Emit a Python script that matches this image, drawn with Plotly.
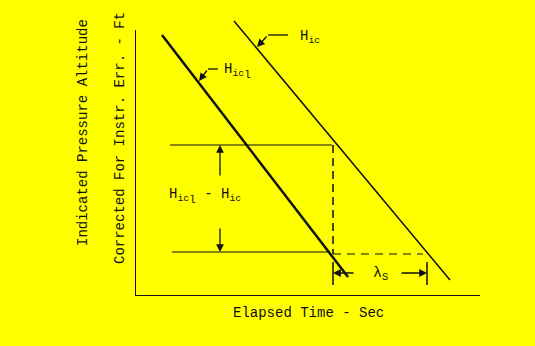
import plotly.graph_objects as go

# Data (arbitrary units: elapsed time vs altitude)
time_hic1 = [2.7, 21.3]
alt_hic1 = [26.1, 1.9]
time_hic = [9.9, 31.5]
alt_hic = [27.5, 1.6]

upper_ref_x = [3.5, 19.7]
upper_ref_y = [15.1, 15.1]
lower_ref_x = [3.7, 19.5]
lower_ref_y = [4.4, 4.4]

dash_v_x = [19.8, 19.8]
dash_v_y = [15.1, 4.2]
dash_h_x = [19.8, 28.8]
dash_h_y = [4.2, 4.2]

tick1_x = [19.8, 19.8]
tick2_x = [29.2, 29.2]
tick_y = [3.4, 1.1]

axis_x = [0, 0, 34.5]
axis_y = [26.6, 0, 0]

lead_hic_x = [15.3, 13.3, 12.2]
lead_hic_y = [26.1, 26.1, 24.9]
lead_hic1_x = [8.3, 7.3, 6.4]
lead_hic1_y = [22.7, 22.7, 21.5]

up_arrow_x = [8.5, 8.5]
up_arrow_y = [11.9, 15.1]
down_arrow_x = [8.5, 8.5]
down_arrow_y = [6.9, 4.4]
lam_left_x = [22.0, 19.8]
lam_right_x = [26.5, 29.2]
lam_y = [2.3, 2.3]

X_RANGE = [0, 34.5]
Y_RANGE = [0, 28.1]

FONT = "Liberation Mono"
INK = "#111111"

fig = go.Figure()

def seg(x, y, w, dash="solid"):
    fig.add_trace(go.Scatter(x=x, y=y, mode="lines",
                             line=dict(color=INK, width=w, dash=dash),
                             hoverinfo="skip", showlegend=False))

def arrow(x, y, w=1.3):
    # polyline body, then an arrowhead on the final segment
    if len(x) > 2:
        seg(x[:-1], y[:-1], w)
    fig.add_annotation(x=x[-1], y=y[-1], ax=x[-2], ay=y[-2], xref="x", yref="y",
                       axref="x", ayref="y", text="", showarrow=True,
                       arrowhead=2, arrowsize=1.2, arrowwidth=w, arrowcolor=INK)

seg(axis_x, axis_y, 2)
seg(time_hic1, alt_hic1, 2.5)
seg(time_hic, alt_hic, 1.5)
seg(upper_ref_x, upper_ref_y, 1.2)
seg(lower_ref_x, lower_ref_y, 1.2)
seg(dash_v_x, dash_v_y, 1.5, "8px,5px")
seg(dash_h_x, dash_h_y, 1.2, "8px,6px")
seg(tick1_x, tick_y, 1.5)
seg(tick2_x, tick_y, 1.5)

arrow(lead_hic_x, lead_hic_y, 1.3)
arrow(lead_hic1_x, lead_hic1_y, 1.3)
arrow(up_arrow_x, up_arrow_y)
arrow(down_arrow_x, down_arrow_y)
arrow(lam_left_x, lam_y)
arrow(lam_right_x, lam_y)

def label(x, y, text, size=14, xanchor="center", angle=0):
    fig.add_annotation(x=x / X_RANGE[1], y=y / Y_RANGE[1], xref="paper", yref="paper",
                       text=text, showarrow=False,
                       xanchor=xanchor, yanchor="middle", textangle=angle,
                       font=dict(family=FONT, size=size, color=INK))

SUB_L = "<sub><span style='font-size:11px'>l</span></sub>"
label(16.3, 25.9, "H<sub>ic</sub>", xanchor="left")
label(8.7, 22.5, "H<sub>ic" + SUB_L + "</sub>", xanchor="left")
label(7.0, 10.0, "H<sub>ic" + SUB_L + "</sub> - H<sub>ic</sub>")
label(24.5, 2.2, "λ<sub>S</sub>", size=15)
label(17.3, -1.7, "Elapsed Time - Sec")
label(-5.2, 16.3, "Indicated Pressure Altitude", angle=-90)
label(-1.5, 15.8, "Corrected For Instr. Err. - Ft", angle=-90)

fig.update_layout(
    width=535, height=346,
    margin=dict(l=135, r=55, t=15, b=50),
    paper_bgcolor="#FFFF00", plot_bgcolor="#FFFF00",
    xaxis=dict(range=X_RANGE, visible=False),
    yaxis=dict(range=Y_RANGE, visible=False),
    showlegend=False,
)

fig.write_html("out.html")
